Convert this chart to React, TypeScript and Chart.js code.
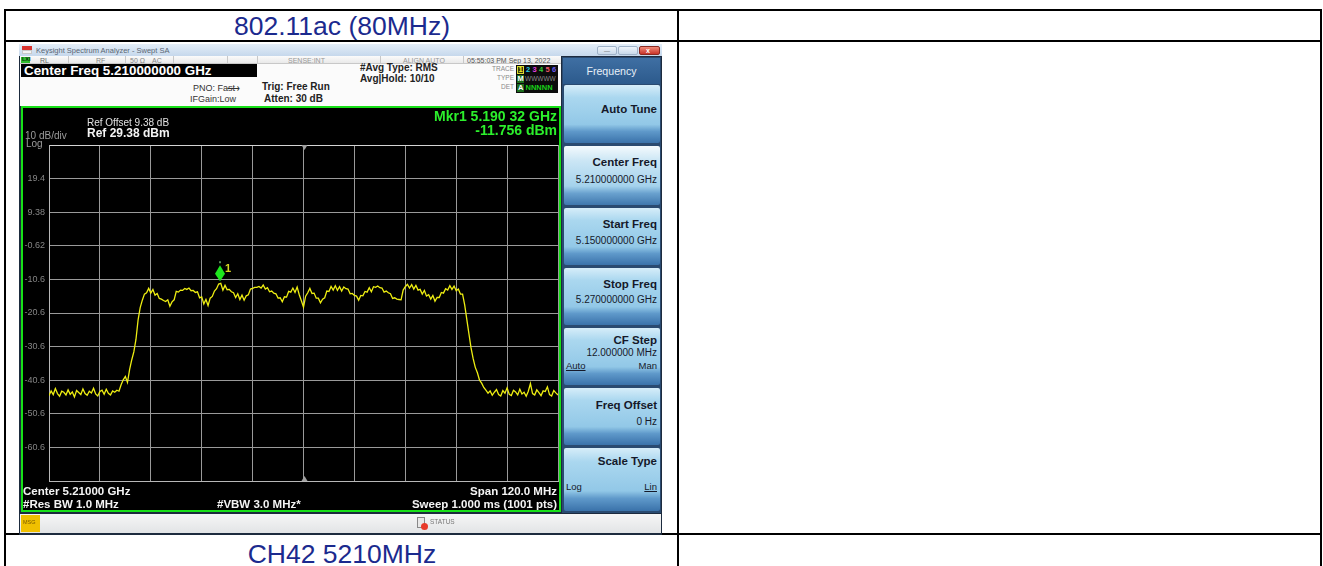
import React, { useEffect, useRef } from 'react';
import { Chart, registerables } from 'chart.js';

Chart.register(...registerables);

// ---------------- data ----------------
const START_MHZ = 5150;
const STOP_MHZ = 5270;
const CENTER_MHZ = 5210;
const Y_GRID_DBM = [29.38, 19.38, 9.38, -0.62, -10.62, -20.62, -30.62, -40.62, -50.62, -60.62, -70.62];
const Y_TICK_LABELS = ['', '19.4', '9.38', '-0.62', '-10.6', '-20.6', '-30.6', '-40.6', '-50.6', '-60.6', ''];
const X_GRID_MHZ = [5150, 5162, 5174, 5186, 5198, 5210, 5222, 5234, 5246, 5258, 5270];
const MARKER_MHZ = 5190.32;
const MARKER_DBM = -11.756;

const NOISE_LEFT_DBM = [
  -45.2, -43.8, -44.9, -43.1, -44.6, -45.4, -43.9, -44.2, -45.0, -43.5,
  -44.8, -44.1, -45.6, -43.7, -44.3, -44.9, -43.2, -44.6, -45.1, -43.9,
  -44.4, -43.0, -44.7, -45.3, -44.0, -43.6, -44.8, -43.3, -44.5, -45.0,
  -43.8, -44.2, -43.6,
];
const RISE_DBM = [-43.9, -42.0, -40.5, -39.5, -41.3, -37.5, -34.6, -32.2, -28.5, -22.7, -19.0, -16.8, -15.0];
const PLATEAU_FALL_DBM = [
  -14.6, -13.3, -14.7, -13.6, -15.3, -14.8, -16.3, -16.5, -16.9, -17.2,
  -16.7, -18.6, -17.3, -16.7, -14.2, -14.4, -13.8, -13.9, -13.3, -13.6,
  -13.2, -14.0, -13.9, -14.5, -14.3, -16.1, -15.8, -17.9, -16.6, -18.4,
  -16.2, -15.7, -14.1, -13.4, -12.0, -11.8, -13.8, -12.4, -13.7, -13.6,
  -14.3, -14.6, -16.0, -14.9, -16.6, -15.3, -16.8, -15.5, -15.2, -13.5,
  -13.3, -13.0, -13.0, -12.7, -13.2, -12.3, -13.5, -13.1, -14.3, -14.1,
  -14.7, -14.9, -16.2, -16.1, -17.3, -15.8, -15.9, -14.2, -14.4, -13.2,
  -14.5, -12.9, -15.2, -17.0, -18.9, -15.6, -14.6, -13.3, -14.8, -14.7,
  -16.2, -16.2, -17.6, -16.5, -16.1, -14.1, -14.2, -12.7, -13.8, -12.5,
  -13.9, -12.8, -14.1, -12.9, -13.4, -13.5, -14.9, -14.8, -15.4, -15.6,
  -16.8, -15.4, -15.5, -14.2, -14.4, -13.1, -14.3, -12.8, -13.0, -12.6,
  -13.1, -13.2, -14.4, -14.1, -14.6, -14.9, -16.3, -16.1, -16.5, -16.6,
  -16.7, -13.8, -12.8, -12.1, -13.2, -12.2, -13.5, -12.4, -13.8, -13.6,
  -15.0, -13.9, -15.6, -15.2, -16.5, -15.4, -17.1, -16.0, -16.0, -14.5,
  -14.7, -13.4, -13.8, -12.5, -13.6, -12.6, -14.0, -13.5, -15.0, -15.0,
  -18.2, -22.5, -26.8, -31.0, -34.2, -36.8, -38.4, -40.6, -41.5, -42.8,
  -43.6, -44.5,
];
const NOISE_RIGHT_DBM = [
  -43.8, -45.1, -44.2, -43.4, -44.9, -45.3, -43.7, -44.5, -42.9, -44.8,
  -45.2, -43.6, -44.1, -45.0, -43.3, -44.7, -44.2, -45.4, -43.9, -41.6,
  -44.6, -45.0, -43.5, -44.3, -45.2, -43.8, -44.0, -42.6, -44.9, -45.3,
  -43.7, -44.4, -45.0,
];
const TRACE_DBM = [...NOISE_LEFT_DBM, ...RISE_DBM, ...PLATEAU_FALL_DBM, ...NOISE_RIGHT_DBM];

// ---------------- helpers ----------------
const FONT = '"Liberation Sans", Arial, Helvetica, sans-serif';
const PAGE_W = 1323;

type TxtProps = {
  x: number; y: number; fs: number; color?: string; bold?: boolean;
  align?: 'left' | 'right' | 'center'; children?: React.ReactNode; extra?: React.CSSProperties;
};
function Txt({ x, y, fs, color = '#000', bold = false, align = 'left', children, extra = {} }: TxtProps) {
  const style: React.CSSProperties = {
    position: 'absolute', top: y - 0.13 * fs, fontSize: fs, lineHeight: 1, color,
    fontWeight: bold ? 700 : 400, whiteSpace: 'nowrap', fontFamily: FONT, ...extra,
  };
  if (align === 'left') style.left = x;
  else if (align === 'right') style.right = PAGE_W - x;
  else { style.left = x - 300; style.width = 600; style.textAlign = 'center'; }
  return <div style={style}>{children}</div>;
}
function Box({ x, y, w, h, bg, extra = {} }: { x: number; y: number; w: number; h: number; bg: string; extra?: React.CSSProperties }) {
  return <div style={{ position: 'absolute', left: x, top: y, width: w, height: h, background: bg, boxSizing: 'border-box', ...extra }} />;
}

// ---------------- chart ----------------
function SpectrumChart() {
  const ref = useRef<HTMLCanvasElement>(null);
  useEffect(() => {
    if (!ref.current) return;
    const n = TRACE_DBM.length;
    const step = (STOP_MHZ - START_MHZ) / (n - 1);
    const points = TRACE_DBM.map((v, i) => ({ x: START_MHZ + i * step, y: v }));

    const overlay = {
      id: 'overlay',
      afterDraw(chart: any) {
        const { ctx, chartArea, scales } = chart;
        const xs = scales.x;
        const ys = scales.y;
        ctx.save();
        ctx.font = `9px ${FONT}`;
        ctx.fillStyle = '#858585';
        ctx.textAlign = 'right';
        ctx.textBaseline = 'middle';
        Y_GRID_DBM.forEach((v, i) => {
          const lbl = Y_TICK_LABELS[i];
          if (lbl) ctx.fillText(lbl, chartArea.left - 4, ys.getPixelForValue(v));
        });
        const cx = Math.round(xs.getPixelForValue(CENTER_MHZ)) + 0.5;
        ctx.fillStyle = '#a0a0a0';
        ctx.beginPath();
        ctx.moveTo(cx - 3, chartArea.top); ctx.lineTo(cx + 3, chartArea.top); ctx.lineTo(cx, chartArea.top + 5);
        ctx.closePath(); ctx.fill();
        ctx.beginPath();
        ctx.moveTo(cx - 3, chartArea.bottom); ctx.lineTo(cx + 3, chartArea.bottom); ctx.lineTo(cx, chartArea.bottom - 5);
        ctx.closePath(); ctx.fill();
        const mx = xs.getPixelForValue(MARKER_MHZ);
        const my = ys.getPixelForValue(MARKER_DBM);
        ctx.fillStyle = '#1ee61e';
        ctx.beginPath();
        ctx.moveTo(mx, my - 2);
        ctx.lineTo(mx + 5, my - 9.5);
        ctx.lineTo(mx, my - 18);
        ctx.lineTo(mx - 5, my - 9.5);
        ctx.closePath();
        ctx.fill();
        ctx.fillStyle = '#5a8a5a';
        ctx.fillRect(mx - 1, my - 22, 2, 2);
        ctx.font = `bold 11px ${FONT}`;
        ctx.fillStyle = '#d8d820';
        ctx.textAlign = 'left';
        ctx.textBaseline = 'alphabetic';
        ctx.fillText('1', mx + 5, my - 11);
        ctx.restore();
      },
    };

    const chart = new Chart(ref.current, {
      type: 'line',
      data: {
        datasets: [{
          data: points,
          borderColor: '#eeee12',
          borderWidth: 1.3,
          pointRadius: 0,
          tension: 0,
          fill: false,
        }],
      },
      options: {
        animation: false,
        responsive: false,
        devicePixelRatio: 1,
        parsing: false as any,
        layout: { padding: { left: 26, top: 37, right: 1, bottom: 29 } },
        plugins: { legend: { display: false }, tooltip: { enabled: false } },
        scales: {
          x: {
            type: 'linear', min: START_MHZ, max: STOP_MHZ,
            afterBuildTicks: (s: any) => { s.ticks = X_GRID_MHZ.map((v) => ({ value: v })); },
            ticks: { display: false },
            grid: { color: '#9a9a9a', lineWidth: 1, drawTicks: false },
            border: { display: true, color: '#b8b8b8' },
          },
          y: {
            type: 'linear', min: Y_GRID_DBM[Y_GRID_DBM.length - 1], max: Y_GRID_DBM[0],
            afterBuildTicks: (s: any) => { s.ticks = Y_GRID_DBM.map((v) => ({ value: v })); },
            ticks: { display: false },
            grid: {
              color: (c: any) => (c.tick && c.tick.value === Y_GRID_DBM[0] ? '#d4d4d4' : '#9a9a9a'),
              lineWidth: 1, drawTicks: false,
            },
            border: { display: true, color: '#b8b8b8' },
          },
        },
      },
      plugins: [overlay],
    } as any);
    return () => chart.destroy();
  }, []);
  return (
    <canvas ref={ref} width={536} height={402}
      style={{ position: 'absolute', left: 23, top: 108, width: 536, height: 402, background: '#000' }} />
  );
}

// ---------------- softkeys ----------------
const KEY_BG = 'linear-gradient(180deg, #d6edf9 0%, #aad7ef 22%, #92c8e7 68%, #5f99ca 80%, #3a72aa 100%)';
const KEY_BG_SEL = 'linear-gradient(180deg, #f4fafd 0%, #cbe6f5 25%, #a4d2ec 68%, #6aa2cf 80%, #3f77ad 100%)';
function Key({ top, h, sel = false }: { top: number; h: number; sel?: boolean }) {
  return <Box x={564} y={top} w={96} h={h} bg={sel ? KEY_BG_SEL : KEY_BG} extra={{ borderRadius: 2 }} />;
}

export default function App() {
  const keyText = '#15192a';
  return (
    <div style={{ position: 'fixed', left: 0, top: 0, width: PAGE_W, height: 566, background: '#fff', overflow: 'hidden', fontFamily: FONT }}>
      {/* table lines */}
      <Box x={4} y={9} w={1318} h={2} bg="#000" />
      <Box x={4} y={40} w={1318} h={2} bg="#000" />
      <Box x={4} y={533} w={1318} h={2} bg="#000" />
      <Box x={4} y={9} w={2} h={560} bg="#000" />
      <Box x={677} y={9} w={2} h={560} bg="#000" />
      <Box x={1320} y={9} w={2} h={560} bg="#000" />

      <Txt x={342} y={16} fs={26.5} color="#1b2a8e" align="center">802.11ac (80MHz)</Txt>
      <Txt x={342} y={544} fs={26.5} color="#1b2a8e" align="center">CH42 5210MHz</Txt>

      {/* analyzer window */}
      <Box x={19} y={44} w={643} h={491} bg="#1d2b3e" />
      <Box x={19} y={44} w={643} h={12} bg="linear-gradient(180deg, #e4eef8 0%, #c6d8ec 100%)" />
      <Box x={22} y={46} w={10} h={4} bg="#d8322e" />
      <Box x={22} y={50} w={10} h={4} bg="#f4f4f4" extra={{ border: '1px solid #c9c9c9' }} />
      <Txt x={36} y={47.5} fs={7.5} color="#5a6674">Keysight Spectrum Analyzer - Swept SA</Txt>
      <Box x={597} y={46} w={20} h={9} bg="linear-gradient(180deg,#eef4fa,#c9d9ea)" extra={{ border: '1px solid #9fb2c8', borderRadius: 2 }} />
      <Box x={618} y={46} w={20} h={9} bg="linear-gradient(180deg,#eef4fa,#c9d9ea)" extra={{ border: '1px solid #9fb2c8', borderRadius: 2 }} />
      <Box x={639} y={46} w={21} h={9} bg="linear-gradient(180deg,#f08a78,#c8342a)" extra={{ border: '1px solid #8a2a22', borderRadius: 2 }} />
      <Txt x={604} y={49} fs={6} color="#555">—</Txt>
      <Txt x={646} y={48} fs={7} color="#fff" bold>x</Txt>

      {/* status row */}
      <Box x={20} y={56} w={541} h={8} bg="linear-gradient(180deg,#fbfbfb,#e9e9e9)" extra={{ borderBottom: '1px solid #c8c8c8' }} />
      <Box x={21} y={57} w={9} h={6} bg="#2dbb2d" />
      <Txt x={22} y={58} fs={5.5} color="#0a300a" bold>LXI</Txt>
      <Txt x={40} y={58} fs={7} color="#666">RL</Txt>
      <Box x={68} y={56} w={1} h={8} bg="#c8c8c8" />
      <Txt x={96} y={58} fs={7} color="#888">RF</Txt>
      <Box x={125} y={56} w={1} h={8} bg="#c8c8c8" />
      <Txt x={130} y={58} fs={7} color="#888">50 Ω</Txt>
      <Txt x={152} y={58} fs={7} color="#888">AC</Txt>
      <Box x={173} y={56} w={1} h={8} bg="#c8c8c8" />
      <Box x={227} y={56} w={1} h={8} bg="#c8c8c8" />
      <Box x={257} y={56} w={1} h={8} bg="#c8c8c8" />
      <Txt x={288} y={58} fs={7} color="#999">SENSE:INT</Txt>
      <Box x={380} y={56} w={1} h={8} bg="#c8c8c8" />
      <Txt x={403} y={58} fs={7} color="#999">ALIGN AUTO</Txt>
      <Box x={463} y={56} w={1} h={8} bg="#c8c8c8" />
      <Txt x={467} y={58} fs={7} color="#555">05:55:03 PM Sep 13, 2022</Txt>

      {/* white header area */}
      <Box x={20} y={64} w={541} h={42} bg="#fbfbfb" />
      <Box x={21} y={64} w={236} h={13} bg="#000" />
      <Txt x={24} y={66} fs={13.4} color="#fff" bold>Center Freq 5.210000000 GHz</Txt>
      <Txt x={193} y={85} fs={9} color="#333">PNO: Fast</Txt>
      <Txt x={227} y={85} fs={9} color="#333">⟶</Txt>
      <Txt x={190} y={96} fs={9} color="#333">IFGain:Low</Txt>
      <Txt x={262} y={83} fs={10} color="#222" bold>Trig: Free Run</Txt>
      <Txt x={264} y={95} fs={10} color="#222" bold>Atten: 30 dB</Txt>
      <Txt x={360} y={64} fs={10} color="#222" bold>#Avg Type: RMS</Txt>
      <Txt x={360} y={75} fs={10} color="#222" bold>Avg|Hold: 10/10</Txt>

      {/* trace indicator */}
      <Txt x={514} y={67} fs={6.5} color="#8a8a8a" align="right">TRACE</Txt>
      <Txt x={514} y={76} fs={6.5} color="#8a8a8a" align="right">TYPE</Txt>
      <Txt x={514} y={85} fs={6.5} color="#8a8a8a" align="right">DET</Txt>
      <Box x={516} y={65} w={42} h={28} bg="#0c0c0c" />
      <Box x={517} y={66} w={7} h={8} bg="#3a3a10" extra={{ border: '1px solid #dcdc30' }} />
      <Txt x={518.5} y={67} fs={7.5} color="#f0f020" bold>1</Txt>
      <Txt x={526} y={67} fs={7.5} color="#28d0e8" bold>2</Txt>
      <Txt x={532.5} y={67} fs={7.5} color="#e040e0" bold>3</Txt>
      <Txt x={539} y={67} fs={7.5} color="#30d030" bold>4</Txt>
      <Txt x={545.5} y={67} fs={7.5} color="#f05a6a" bold>5</Txt>
      <Txt x={552} y={67} fs={7.5} color="#6a5af0" bold>6</Txt>
      <Box x={517} y={75} w={7} h={8} bg="#1e6e1e" />
      <Txt x={517.5} y={76} fs={7.5} color="#fff" bold>M</Txt>
      <Txt x={525} y={76.5} fs={6.5} color="#8a8a8a">WWWWW</Txt>
      <Box x={517} y={84} w={7} h={8} bg="#1e6e1e" />
      <Txt x={518} y={85} fs={7.5} color="#fff" bold>A</Txt>
      <Txt x={525.5} y={85} fs={7.5} color="#19d019" bold>NNNNN</Txt>

      {/* plot frame */}
      <Box x={21} y={106} w={540} h={406} bg="#000" extra={{ border: '2px solid #18e018' }} />
      <SpectrumChart />
      <Txt x={87} y={119} fs={10} color="#e0e0e0">Ref Offset 9.38 dB</Txt>
      <Txt x={87} y={129} fs={12} color="#f4f4f4" bold>Ref 29.38 dBm</Txt>
      <Txt x={25} y={132} fs={10} color="#9c9c9c">10 dB/div</Txt>
      <Txt x={26} y={140} fs={10} color="#9c9c9c">Log</Txt>
      <Txt x={557} y={111} fs={14} color="#2cf02c" bold align="right">Mkr1 5.190 32 GHz</Txt>
      <Txt x={557} y={125} fs={14} color="#2cf02c" bold align="right">-11.756 dBm</Txt>
      <Txt x={23} y={487} fs={11.5} color="#f4f4f4" bold>Center 5.21000 GHz</Txt>
      <Txt x={557} y={487} fs={11.5} color="#f4f4f4" bold align="right">Span 120.0 MHz</Txt>
      <Txt x={23} y={500} fs={11.5} color="#f4f4f4" bold>#Res BW 1.0 MHz</Txt>
      <Txt x={217} y={500} fs={11.5} color="#f4f4f4" bold>#VBW 3.0 MHz*</Txt>
      <Txt x={557} y={500} fs={11.5} color="#f4f4f4" bold align="right">Sweep  1.000 ms (1001 pts)</Txt>

      {/* bottom status bar */}
      <Box x={20} y={514} w={641} h={19} bg="linear-gradient(180deg,#f6f6f6,#e2e4e6)" />
      <Box x={21} y={515} w={19} h={17} bg="#f0c000" />
      <Txt x={23} y={521} fs={5.5} color="#7a5a00">MSG</Txt>
      <Box x={417} y={517} w={8} h={11} bg="#e8e8e8" extra={{ border: '1px solid #888' }} />
      <Box x={421} y={523} w={7} h={7} bg="#e83a2a" extra={{ borderRadius: 4 }} />
      <Txt x={430} y={520} fs={6.5} color="#777">STATUS</Txt>

      {/* softkey panel */}
      <Box x={562} y={57} w={99} h={456} bg="#2a4a70" />
      <Box x={563} y={58} w={97} h={26} bg="linear-gradient(180deg,#3f6fa3 0%,#2c5a8c 100%)" />
      <Txt x={611.5} y={67} fs={10.6} color="#e8f0f8" align="center">Frequency</Txt>
      <Key top={85} h={58} />
      <Key top={146} h={59} sel />
      <Key top={208} h={57} />
      <Key top={268} h={57} />
      <Key top={328} h={57} />
      <Key top={388} h={57} />
      <Key top={448} h={63} />
      <Txt x={657} y={105} fs={11.5} color={keyText} bold align="right">Auto Tune</Txt>
      <Txt x={657} y={158} fs={11.5} color={keyText} bold align="right">Center Freq</Txt>
      <Txt x={657} y={176} fs={10} color={keyText} align="right">5.210000000 GHz</Txt>
      <Txt x={657} y={220} fs={11.5} color={keyText} bold align="right">Start Freq</Txt>
      <Txt x={657} y={237} fs={10} color={keyText} align="right">5.150000000 GHz</Txt>
      <Txt x={657} y={280} fs={11.5} color={keyText} bold align="right">Stop Freq</Txt>
      <Txt x={657} y={296} fs={10} color={keyText} align="right">5.270000000 GHz</Txt>
      <Txt x={657} y={336} fs={11.5} color={keyText} bold align="right">CF Step</Txt>
      <Txt x={657} y={349} fs={10} color={keyText} align="right">12.000000 MHz</Txt>
      <Txt x={566} y={362} fs={9.5} color={keyText} extra={{ textDecoration: 'underline' }}>Auto</Txt>
      <Txt x={657} y={362} fs={9.5} color={keyText} align="right">Man</Txt>
      <Txt x={657} y={401} fs={11.5} color={keyText} bold align="right">Freq Offset</Txt>
      <Txt x={657} y={418} fs={10} color={keyText} align="right">0 Hz</Txt>
      <Txt x={657} y={457} fs={11.5} color={keyText} bold align="right">Scale Type</Txt>
      <Txt x={566} y={483} fs={9.5} color={keyText}>Log</Txt>
      <Txt x={657} y={483} fs={9.5} color={keyText} align="right" extra={{ textDecoration: 'underline' }}>Lin</Txt>
    </div>
  );
}
